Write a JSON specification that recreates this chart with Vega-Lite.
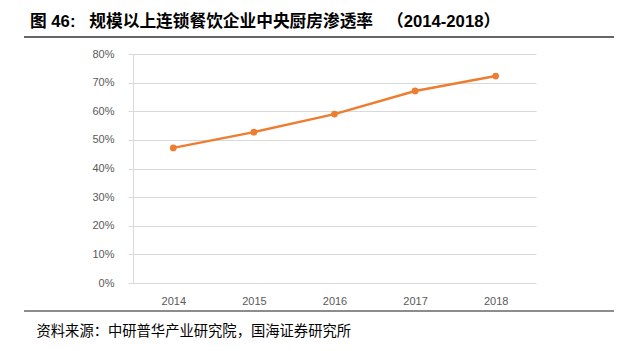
{
  "$schema": "https://vega.github.io/schema/vega-lite/v6.json",
  "autosize": "none",
  "width": 403,
  "height": 229,
  "padding": {"left": 133, "top": 54, "right": 91, "bottom": 68},
  "background": "white",
  "config": {
    "view": {"stroke": null},
    "font": "Liberation Sans, Noto Sans CJK SC"
  },
  "title": {
    "text": "图 46:\u00a0\u00a0\u00a0规模以上连锁餐饮企业中央厨房渗透率\u00a0\u00a0\u00a0（2014-2018）",
    "anchor": "start",
    "frame": "group",
    "dx": -103,
    "offset": 6,
    "fontSize": 16.7,
    "fontWeight": "bold",
    "color": "#000000",
    "font": "Liberation Sans, Noto Sans CJK SC"
  },
  "datasets": {
    "rate": [
      {"year": 2014, "rate": 0.472},
      {"year": 2015, "rate": 0.527},
      {"year": 2016, "rate": 0.590},
      {"year": 2017, "rate": 0.671},
      {"year": 2018, "rate": 0.723}
    ],
    "rules": [
      {"x1": 2012.148, "x2": 2019.468, "y": 0.8594, "kind": "top"},
      {"x1": 2012.148, "x2": 2019.468, "y": -0.098, "kind": "bottom"}
    ]
  },
  "layer": [
    {
      "data": {"name": "rate"},
      "mark": {"type": "line", "color": "#ED7D31", "strokeWidth": 2.5, "point": {"filled": true, "size": 45, "color": "#ED7D31"}},
      "encoding": {
        "x": {
          "field": "year", "type": "quantitative",
          "scale": {"domain": [2013.5, 2018.5], "nice": false, "zero": false},
          "axis": {
            "values": [2014, 2015, 2016, 2017, 2018],
            "tickCount": 5,
            "format": "d",
            "grid": false,
            "domain": false,
            "ticks": false,
            "labelPadding": 12,
            "labelFontSize": 11,
            "labelColor": "#595959",
            "labelOverlap": false,
            "title": "资料来源：中研普华产业研究院，国海证券研究所",
            "titleAnchor": "start",
            "titleAlign": "left",
            "titleX": -97,
            "titleY": 52,
            "titleBaseline": "alphabetic",
            "titleFontSize": 14.3,
            "titleFontWeight": "normal",
            "titleColor": "#000000",
            "titleFont": "Noto Sans CJK SC"
          }
        },
        "y": {
          "field": "rate", "type": "quantitative",
          "scale": {"domain": [0, 0.8], "nice": false},
          "axis": {
            "values": [0, 0.1, 0.2, 0.3, 0.4, 0.5, 0.6, 0.7, 0.8],
            "tickCount": 9,
            "format": ".0%",
            "title": null,
            "gridColor": "#d9d9d9",
            "domainColor": "#d9d9d9",
            "tickColor": "#d9d9d9",
            "tickSize": 5,
            "labelPadding": 14,
            "labelFontSize": 11,
            "labelColor": "#595959",
            "labelOverlap": false
          }
        }
      }
    },
    {
      "data": {"name": "rules"},
      "mark": {"type": "rule", "clip": false},
      "encoding": {
        "x": {"field": "x1", "type": "quantitative", "scale": {"domain": [2013.5, 2018.5], "nice": false, "zero": false}},
        "x2": {"field": "x2"},
        "y": {"field": "y", "type": "quantitative", "scale": {"domain": [0, 0.8], "nice": false}},
        "color": {"field": "kind", "type": "nominal", "scale": {"domain": ["top", "bottom"], "range": ["#333333", "#8c8c8c"]}, "legend": null},
        "strokeWidth": {"field": "kind", "type": "nominal", "scale": {"domain": ["top", "bottom"], "range": [1.5, 2]}, "legend": null}
      }
    }
  ]
}
